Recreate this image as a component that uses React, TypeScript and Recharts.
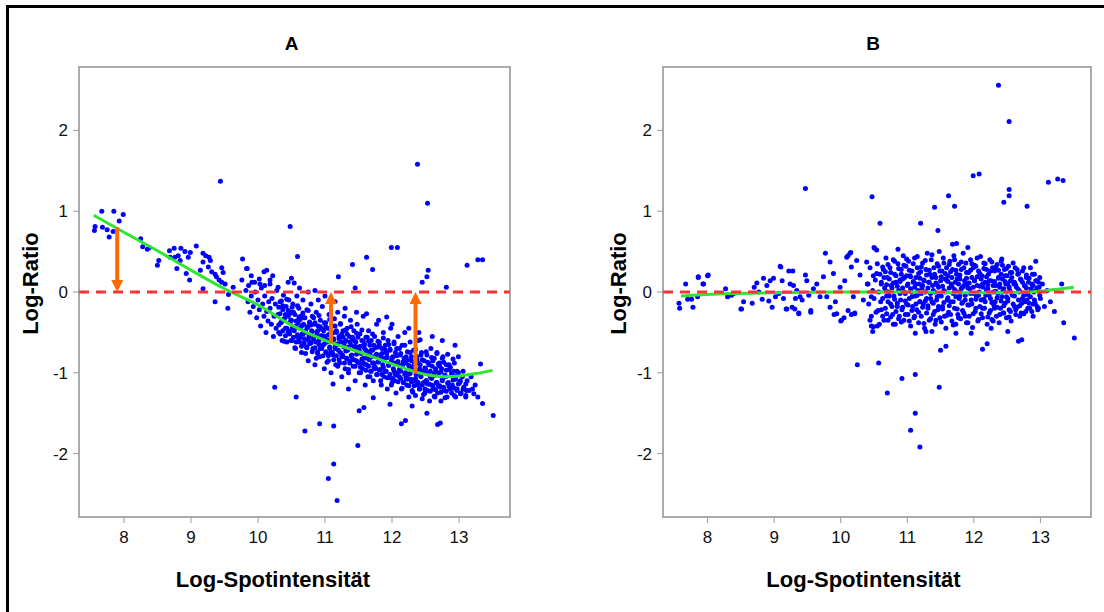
import React from 'react';
import { ScatterChart, Scatter, XAxis, YAxis, ReferenceLine, ReferenceArea } from 'recharts';

// Werte (MA-Plot vor / nach Loess-Normalisierung)
const xTicks = [8, 9, 10, 11, 12, 13];
const yTicks = [-2, -1, 0, 1, 2];
const xDomain: [number, number] = [7.33, 13.76];
const yDomain: [number, number] = [-2.785, 2.785];

const panelTitles = ['A', 'B'];
const xTitle = 'Log-Spotintensität';
const yTitle = 'Log-Ratio';

// Panel A: Rohdaten, Punktwolke fällt mit der Intensität
const pointsA: [number, number][] = [
  [7.57, 0.81], [7.56, 0.76], [7.67, 1.0], [7.68, 0.8], [7.75, 0.77], [7.78, 0.68], [7.85, 1.0], [7.84, 0.75],
  [7.93, 0.88], [7.99, 0.96], [8.25, 0.66], [8.28, 0.56], [8.35, 0.53], [8.38, 0.55], [8.52, 0.39], [8.5, 0.33],
  [8.68, 0.51], [8.75, 0.54], [8.69, 0.43], [8.76, 0.43], [8.81, 0.45], [8.85, 0.54], [8.84, 0.39], [8.91, 0.5],
  [8.96, 0.43], [8.99, 0.49], [8.79, 0.29], [8.93, 0.23], [8.98, 0.15], [9.08, 0.57], [9.18, 0.48], [9.22, 0.45],
  [9.27, 0.43], [9.29, 0.39], [9.18, 0.37], [9.26, 0.31], [9.14, 0.27], [9.31, 0.25], [9.36, 0.22], [9.38, 0.19],
  [9.42, 0.15], [9.46, 0.12], [9.48, 0.24], [9.51, 0.1], [9.46, 0.3], [9.77, 0.41], [9.83, 0.29], [9.76, 0.15],
  [9.63, 0.06], [9.56, -0.03], [9.36, -0.12], [9.55, -0.2], [9.18, 0.04], [9.91, 0.12], [10.03, 0.1], [10.09, 0.25],
  [10.13, 0.27], [10.18, 0.15], [10.5, 0.17], [10.54, 0.11], [9.44, 1.37], [12.38, 1.58], [12.53, 1.1], [10.48, 0.81],
  [10.59, 0.44], [9.84, 0.29], [11.2, 0.19], [11.41, 0.34], [11.62, 0.43], [11.71, 0.28], [11.99, 0.55], [12.08, 0.55],
  [13.12, 0.33], [13.28, 0.4], [13.35, 0.4], [12.54, 0.27], [12.52, 0.19], [12.45, 0.12], [12.81, 0.06], [11.45, 0.05],
  [10.85, 0.02], [10.25, -1.18], [10.57, -1.3], [10.7, -1.72], [10.92, -1.63], [11.13, -1.66], [11.49, -1.9],
  [11.13, -2.13], [11.05, -2.31], [11.18, -2.58], [11.51, -1.47], [11.58, -1.43], [11.72, -1.31], [11.97, -1.39],
  [12.14, -1.63], [12.2, -1.59], [12.3, -1.41], [12.52, -1.5], [12.68, -1.64], [12.72, -1.62], [13.22, -1.26],
  [13.35, -1.38], [13.51, -1.53], [12.94, -0.66], [13.32, -0.89], [11.92, -0.31], [11.12, -1.14], [11.35, -1.2],
  [13.11, -1.22], [12.42, -0.59],
  [9.82, 0.02], [9.85, -0.12], [9.88, -0.25], [9.86, 0.08], [9.9, -0.05], [9.93, -0.18], [9.96, 0.0], [9.98, -0.32],
  [10.0, -0.1], [10.02, -0.22], [10.04, -0.42], [10.05, 0.05], [10.07, -0.15], [10.09, -0.3], [10.1, -0.05],
  [10.12, -0.5], [10.13, -0.24], [10.15, -0.36], [10.16, -0.12], [10.18, -0.2], [10.2, -0.4], [10.21, -0.08],
  [10.23, -0.55], [10.24, -0.3], [10.26, -0.15], [10.27, -0.45], [10.28, 0.02], [10.3, -0.28], [10.31, -0.5],
  [10.33, -0.12], [10.34, -0.38], [10.36, -0.6], [10.37, -0.22], [10.38, -0.04], [10.39, -0.33], [10.41, -0.45],
  [10.42, -0.18], [10.43, -0.62], [10.45, -0.3], [10.46, -0.1], [10.47, -0.52], [10.48, -0.38], [10.49, -0.25],
  [10.5, -0.35], [10.51, -0.6], [10.52, -0.15], [10.54, -0.48], [10.55, -0.28], [10.56, -0.7], [10.57, -0.42],
  [10.58, -0.05], [10.59, -0.55], [10.6, -0.38], [10.61, -0.2], [10.62, -0.62], [10.63, -0.45], [10.64, -0.3],
  [10.65, -0.75], [10.66, -0.52], [10.67, -0.1], [10.68, -0.4], [10.69, -0.58], [10.7, -0.32], [10.71, -0.5],
  [10.72, -0.68], [10.73, -0.22], [10.74, -0.44], [10.75, -0.85], [10.76, -0.55], [10.77, -0.38], [10.78, -0.62],
  [10.79, -0.15], [10.8, -0.48], [10.81, -0.3], [10.82, -0.7], [10.83, -0.56], [10.84, -0.4], [10.85, -0.9],
  [10.86, -0.62], [10.87, -0.25], [10.88, -0.5], [10.89, -0.76], [10.9, -0.42], [10.91, -0.6], [10.92, -0.8],
  [10.93, -0.35], [10.94, -0.54], [10.95, -0.7], [10.96, -0.18], [10.97, -0.66], [10.98, -0.48], [10.99, -0.95],
  [11.0, -0.55], [11.01, -0.38], [11.02, -0.75], [11.03, -0.62], [11.04, -0.45], [11.05, -0.85], [11.06, -0.28],
  [11.07, -0.68], [11.08, -0.52], [11.09, -1.0], [11.1, -0.6], [11.11, -0.42], [11.12, -0.78], [11.13, -0.58],
  [11.14, -0.33], [11.15, -0.7], [11.16, -0.9], [11.17, -0.5], [11.18, -0.65], [11.19, -0.25], [11.2, -0.72],
  [11.21, -0.55], [11.22, -0.88], [11.23, -0.4], [11.24, -0.62], [11.25, -1.05], [11.26, -0.78], [11.27, -0.48],
  [11.28, -0.68], [11.29, -0.3], [11.3, -0.95], [11.31, -0.6], [11.32, -0.82], [11.33, -0.45], [11.34, -0.72],
  [11.35, -1.0], [11.36, -0.55], [11.37, -0.86], [11.38, -0.35], [11.39, -0.66], [11.4, -0.78], [11.41, -0.58],
  [11.42, -0.92], [11.43, -0.48], [11.44, -0.7], [11.45, -1.1], [11.46, -0.62], [11.47, -0.85], [11.48, -0.4],
  [11.49, -0.75], [11.5, -0.68], [11.51, -0.88], [11.52, -0.52], [11.53, -1.0], [11.54, -0.76], [11.55, -0.6],
  [11.56, -0.95], [11.57, -0.3], [11.58, -0.82], [11.59, -0.7], [11.6, -1.15], [11.61, -0.56], [11.62, -0.9],
  [11.63, -0.74], [11.64, -1.05], [11.65, -0.48], [11.66, -0.84], [11.67, -0.66], [11.68, -0.98], [11.69, -0.6],
  [11.7, -0.8], [11.71, -0.72], [11.72, -1.1], [11.73, -0.88], [11.74, -0.55], [11.75, -0.95], [11.76, -0.78],
  [11.77, -0.4], [11.78, -1.02], [11.79, -0.68], [11.8, -0.86], [11.81, -0.62], [11.82, -0.96], [11.83, -0.78],
  [11.84, -1.15], [11.85, -0.7], [11.86, -0.9], [11.87, -0.5], [11.88, -1.05], [11.89, -0.82], [11.9, -0.66],
  [11.91, -0.98], [11.92, -0.76], [11.93, -1.2], [11.94, -0.6], [11.95, -0.9], [11.96, -1.06], [11.97, -0.72],
  [11.98, -0.45], [11.99, -0.85], [12.0, -1.12], [12.01, -0.8], [12.02, -0.95], [12.03, -0.64], [12.04, -1.1],
  [12.05, -0.88], [12.06, -1.25], [12.07, -0.7], [12.08, -1.0], [12.09, -0.55], [12.1, -0.9], [12.11, -1.05],
  [12.12, -0.78], [12.13, -0.98], [12.14, -1.2], [12.15, -0.66], [12.16, -0.9], [12.17, -1.12], [12.18, -0.82],
  [12.19, -0.5], [12.2, -1.0], [12.21, -0.88], [12.22, -1.15], [12.23, -0.74], [12.24, -1.02], [12.25, -1.3],
  [12.26, -0.92], [12.27, -0.62], [12.28, -1.08], [12.29, -0.85], [12.3, -1.22], [12.31, -0.95], [12.32, -0.72],
  [12.33, -1.1], [12.34, -0.88], [12.35, -1.28], [12.36, -1.02], [12.37, -0.8], [12.38, -1.15], [12.39, -0.6],
  [12.4, -0.98], [12.41, -1.2], [12.42, -0.9], [12.43, -1.05], [12.44, -0.75], [12.45, -1.32], [12.46, -0.98],
  [12.47, -1.12], [12.48, -0.85], [12.49, -1.25], [12.5, -0.95], [12.51, -1.1], [12.52, -0.78], [12.53, -1.22],
  [12.54, -1.0], [12.55, -0.88], [12.56, -1.35], [12.57, -1.05], [12.58, -0.7], [12.59, -1.15], [12.6, -0.92],
  [12.61, -1.2], [12.62, -1.04], [12.63, -0.82], [12.64, -1.3], [12.65, -0.98], [12.66, -1.12], [12.67, -0.75],
  [12.68, -1.25], [12.7, -1.0], [12.71, -0.88], [12.72, -1.18], [12.73, -1.35], [12.74, -0.95], [12.75, -1.1],
  [12.76, -0.8], [12.78, -1.22], [12.8, -1.05], [12.81, -0.9], [12.82, -1.3], [12.84, -1.12], [12.85, -0.96],
  [12.87, -1.2], [12.89, -1.02], [12.9, -1.15], [12.92, -0.98], [12.93, -1.28], [12.95, -1.08], [12.97, -1.2],
  [12.99, -1.0], [13.01, -1.12], [13.03, -1.25], [13.05, -1.05], [13.07, -1.18], [13.1, -1.3], [13.12, -1.1],
  [13.15, -1.22], [13.18, -1.05], [13.2, -1.2], [13.24, -1.15], [13.28, -1.3],
  [9.9, 0.2], [9.95, 0.12], [10.02, 0.16], [10.1, 0.08], [10.18, 0.1], [10.22, 0.2], [10.3, 0.06], [10.45, 0.12],
  [10.62, 0.05], [10.75, 0.0], [10.9, -0.1], [11.0, -0.05], [11.15, -0.12], [11.3, -0.2], [11.47, -0.25],
  [11.62, -0.27], [11.8, -0.35], [12.0, -0.4], [12.25, -0.45], [12.4, -0.5], [12.6, -0.55], [12.75, -0.6],
];

// Panel A: dichter Kern der Wolke entlang der Kurve
const coreA: [number, number][] = [
  [10.31, -0.19], [10.31, -0.41], [10.33, -0.52], [10.33, -0.27], [10.35, -0.11], [10.35, -0.37], [10.37, -0.48], [10.37, -0.17],
  [10.39, -0.33], [10.39, -0.61], [10.41, -0.28], [10.41, -0.54], [10.43, -0.45], [10.43, -0.09], [10.45, -0.23], [10.45, -0.5],
  [10.47, -0.27], [10.47, -0.49], [10.49, -0.6], [10.49, -0.35], [10.51, -0.19], [10.51, -0.45], [10.53, -0.56], [10.53, -0.25],
  [10.55, -0.45], [10.55, -0.69], [10.57, -0.36], [10.57, -0.62], [10.59, -0.53], [10.59, -0.17], [10.61, -0.31], [10.61, -0.58],
  [10.63, -0.34], [10.63, -0.56], [10.65, -0.67], [10.65, -0.42], [10.67, -0.26], [10.67, -0.52], [10.69, -0.63], [10.69, -0.32],
  [10.71, -0.48], [10.71, -0.76], [10.73, -0.43], [10.73, -0.69], [10.75, -0.59], [10.75, -0.23], [10.77, -0.37], [10.77, -0.64],
  [10.79, -0.41], [10.79, -0.63], [10.81, -0.74], [10.81, -0.49], [10.83, -0.32], [10.83, -0.58], [10.85, -0.69], [10.85, -0.38],
  [10.87, -0.54], [10.87, -0.82], [10.89, -0.48], [10.89, -0.74], [10.91, -0.65], [10.91, -0.29], [10.93, -0.43], [10.93, -0.7],
  [10.95, -0.46], [10.95, -0.68], [10.97, -0.79], [10.97, -0.54], [10.99, -0.38], [10.99, -0.64], [11.01, -0.74], [11.01, -0.43],
  [11.03, -0.59], [11.03, -0.87], [11.05, -0.53], [11.05, -0.79], [11.07, -0.7], [11.07, -0.34], [11.09, -0.48], [11.09, -0.75],
  [11.11, -0.51], [11.11, -0.75], [11.13, -0.84], [11.13, -0.59], [11.15, -0.42], [11.15, -0.68], [11.17, -0.79], [11.17, -0.48],
  [11.19, -0.64], [11.19, -0.92], [11.21, -0.58], [11.21, -0.84], [11.23, -0.75], [11.23, -0.39], [11.25, -0.52], [11.25, -0.79],
  [11.27, -0.56], [11.27, -0.8], [11.29, -0.88], [11.29, -0.63], [11.31, -0.47], [11.31, -0.73], [11.33, -0.83], [11.33, -0.52],
  [11.35, -0.68], [11.35, -0.96], [11.37, -0.62], [11.37, -0.88], [11.39, -0.79], [11.39, -0.43], [11.41, -0.56], [11.41, -0.83],
  [11.43, -0.6], [11.43, -0.84], [11.45, -0.92], [11.45, -0.67], [11.47, -0.51], [11.47, -0.77], [11.49, -0.87], [11.49, -0.56],
  [11.51, -0.72], [11.51, -1.0], [11.53, -0.67], [11.53, -0.93], [11.55, -0.83], [11.55, -0.47], [11.57, -0.61], [11.57, -0.88],
  [11.59, -0.65], [11.59, -0.89], [11.61, -0.97], [11.61, -0.72], [11.63, -0.56], [11.63, -0.82], [11.65, -0.92], [11.65, -0.61],
  [11.67, -0.77], [11.67, -1.05], [11.69, -0.72], [11.69, -0.98], [11.71, -0.88], [11.71, -0.52], [11.73, -0.66], [11.73, -0.93],
  [11.75, -0.69], [11.75, -0.93], [11.77, -1.02], [11.77, -0.77], [11.79, -0.61], [11.79, -0.87], [11.81, -0.97], [11.81, -0.66],
  [11.83, -0.82], [11.83, -1.1], [11.85, -0.76], [11.85, -1.02], [11.87, -0.93], [11.87, -0.57], [11.89, -0.71], [11.89, -0.98],
  [11.91, -0.74], [11.91, -0.98], [11.93, -1.06], [11.93, -0.81], [11.95, -0.65], [11.95, -0.91], [11.97, -1.02], [11.97, -0.71],
  [11.99, -0.87], [11.99, -1.15], [12.01, -0.81], [12.01, -1.07], [12.03, -0.98], [12.03, -0.62], [12.05, -0.75], [12.05, -1.02],
  [12.07, -0.79], [12.07, -1.03], [12.09, -1.11], [12.09, -0.86], [12.11, -0.7], [12.11, -0.96], [12.13, -1.07], [12.13, -0.76],
  [12.15, -0.91], [12.15, -1.19], [12.17, -0.86], [12.17, -1.12], [12.19, -1.02], [12.19, -0.66], [12.21, -0.8], [12.21, -1.07],
  [12.23, -0.84], [12.23, -1.08], [12.25, -1.16], [12.25, -0.91], [12.27, -0.75], [12.27, -1.01], [12.29, -1.11], [12.29, -0.8],
  [12.31, -0.96], [12.31, -1.24], [12.33, -0.9], [12.33, -1.16], [12.35, -1.07], [12.35, -0.71], [12.37, -0.84], [12.37, -1.11],
  [12.39, -0.88], [12.39, -1.12], [12.41, -1.2], [12.41, -0.95], [12.43, -0.78], [12.43, -1.04], [12.45, -1.15], [12.45, -0.84],
  [12.47, -0.99], [12.47, -1.27], [12.49, -0.94], [12.49, -1.2], [12.51, -1.1], [12.51, -0.74], [12.53, -0.87], [12.53, -1.14],
  [12.55, -0.9], [12.55, -1.14], [12.57, -1.23], [12.57, -0.98], [12.59, -0.81], [12.59, -1.07], [12.61, -1.16], [12.61, -0.85],
  [12.63, -1.01], [12.63, -1.29], [12.65, -0.95], [12.65, -1.21], [12.67, -1.12], [12.67, -0.76], [12.69, -0.89], [12.69, -1.16],
  [12.71, -0.92], [12.71, -1.16], [12.73, -1.24], [12.73, -0.99], [12.75, -0.82], [12.75, -1.08], [12.77, -1.18], [12.77, -0.87],
  [12.79, -1.03], [12.79, -1.31], [12.81, -0.97], [12.81, -1.23], [12.83, -1.13], [12.83, -0.77], [12.85, -0.9], [12.85, -1.17],
  [12.87, -0.93], [12.87, -1.17], [12.89, -1.25], [12.89, -1.0], [12.91, -0.83], [12.91, -1.09], [12.93, -1.19], [12.93, -0.88],
  [12.95, -1.04], [12.95, -1.3], [12.97, -0.98], [12.97, -1.22], [12.99, -1.14], [12.99, -0.8], [13.02, -1.1], [13.02, -1.26],
  [13.06, -1.2], [13.06, -0.98], [13.1, -1.14], [13.1, -1.28],
];

// Loess-Kurve Panel A
const curveA: [number, number][] = [
  [7.55, 0.95], [8, 0.74], [8.5, 0.51], [9, 0.27], [9.5, 0.04], [10, -0.16], [10.5, -0.41], [11, -0.6],
  [11.5, -0.74], [12, -0.89], [12.5, -1.02], [12.8, -1.05], [13, -1.04], [13.25, -1.01], [13.5, -0.97],
];

// Pfeile: Korrektur der Loess-Kurve auf 0
const arrowX = [7.9, 11.09, 12.35];
const arrowFrom = [0.8, -0.63, -1.01];
const arrowTo = [0.0, 0.0, 0.0];

// Panel B: normalisierte Daten, um 0 zentriert
const pointsB: [number, number][] = [
  [12.37, 2.56], [12.53, 2.11], [9.47, 1.28], [10.47, 1.18], [10.59, 0.85], [11.41, 1.05], [11.62, 1.19],
  [11.71, 1.06], [11.2, 0.85], [11.46, 0.76], [11.99, 1.44], [12.08, 1.46], [12.45, 1.11], [12.53, 1.19],
  [12.53, 1.27], [12.8, 1.06], [13.12, 1.36], [13.26, 1.4], [13.34, 1.38], [12.93, 0.38], [12.42, 0.41],
  [11.91, 0.55], [11.68, 0.59], [11.74, 0.6], [10.5, 0.55], [10.54, 0.52], [10.86, 0.53], [9.77, 0.48],
  [10.11, 0.45], [10.15, 0.49], [9.1, 0.31], [7.86, 0.19], [8.0, 0.2], [7.67, 0.1], [7.93, 0.1], [13.32, 0.1],
  [10.25, -0.9], [10.57, -0.88], [10.7, -1.25], [10.92, -1.07], [11.12, -1.02], [11.48, -1.18], [11.12, -1.5],
  [11.05, -1.71], [11.19, -1.92], [11.5, -0.72], [11.58, -0.67], [12.13, -0.71], [12.2, -0.64], [12.67, -0.61],
  [12.72, -0.59], [13.35, -0.38], [13.51, -0.57], [11.73, -0.51], [11.96, -0.51], [11.12, -0.51], [11.28, -0.49],
  [11.37, -0.49], [10.48, -0.49], [10.46, -0.42], [10.55, -0.42], [12.51, -0.49], [12.26, -0.45], [13.21, -0.24],
  [7.58, -0.2], [7.78, -0.19], [8.51, -0.21], [8.97, -0.19], [9.19, -0.21], [9.31, -0.21], [9.37, -0.26],
  [9.55, -0.25], [9.9, -0.28], [10.0, -0.36], [10.05, -0.32], [10.16, -0.28], [10.21, -0.26],
  [7.57, -0.14], [7.7, -0.09], [7.76, -0.09], [7.85, -0.06], [7.86, 0.18], [7.94, 0.1], [8.01, 0.21], [8.27, 0.04],
  [8.3, -0.06], [8.36, -0.04], [8.39, -0.02], [8.5, -0.21], [8.54, -0.12], [8.67, -0.14], [8.7, 0.06], [8.74, 0.11],
  [8.77, 0.0], [8.82, -0.09], [8.84, 0.17], [8.89, 0.08], [8.94, 0.14], [8.99, 0.17], [8.92, -0.11], [9.02, -0.06],
  [9.07, -0.02], [9.09, 0.32], [9.12, 0.14], [9.14, -0.08], [9.18, -0.21], [9.22, 0.26], [9.28, 0.26], [9.24, 0.1],
  [9.29, 0.08], [9.27, -0.19], [9.32, -0.08], [9.34, 0.02], [9.37, -0.27], [9.39, -0.06], [9.42, -0.1], [9.47, 0.21],
  [9.49, 0.14], [9.52, -0.04], [9.55, -0.23], [9.59, 0.04], [9.64, 0.1], [9.69, -0.06], [9.74, 0.19], [9.79, -0.06],
  [9.84, 0.37], [9.84, -0.19], [9.89, 0.23], [9.92, -0.12], [9.94, -0.27], [9.99, 0.06], [10.01, -0.35], [10.06, 0.14],
  [10.09, 0.43], [10.11, -0.23], [10.14, 0.48], [10.16, 0.31], [10.19, -0.06], [10.21, -0.27], [10.24, 0.39],
  [10.29, 0.21], [10.34, -0.1], [10.39, 0.37], [10.41, 0.1], [10.44, -0.35], [10.46, -0.06], [10.49, -0.43],
  [10.51, 0.54], [10.54, 0.23], [10.56, -0.23],
  [10.4, 0.1], [10.42, -0.15], [10.44, 0.3], [10.46, -0.3], [10.48, 0.02], [10.49, 0.2], [10.5, -0.08], [10.52, 0.15],
  [10.53, -0.25], [10.55, 0.35], [10.57, 0.0], [10.58, -0.4], [10.59, 0.22], [10.6, -0.12], [10.61, 0.1], [10.63, -0.3],
  [10.64, 0.28], [10.66, 0.05], [10.67, -0.2], [10.68, 0.42], [10.69, -0.05], [10.7, 0.18], [10.71, -0.35], [10.72, 0.0],
  [10.74, 0.3], [10.75, -0.15], [10.76, 0.08], [10.78, -0.28], [10.79, 0.4], [10.8, -0.05], [10.81, 0.22], [10.82, -0.4],
  [10.83, 0.12], [10.85, -0.18], [10.86, 0.35], [10.87, 0.02], [10.88, -0.3], [10.89, 0.15], [10.9, -0.1], [10.91, 0.28],
  [10.92, -0.22], [10.93, 0.05], [10.94, 0.45], [10.95, -0.35], [10.96, 0.18], [10.97, -0.02], [10.98, 0.32],
  [10.99, -0.15], [11.0, 0.08], [11.01, -0.28], [11.02, 0.38], [11.03, -0.08], [11.04, 0.2], [11.05, -0.42], [11.06, 0.0],
  [11.07, 0.26], [11.08, -0.18], [11.09, 0.12], [11.1, -0.32], [11.11, 0.42], [11.12, -0.05], [11.13, 0.18],
  [11.14, -0.22], [11.15, 0.3], [11.16, 0.02], [11.17, -0.38], [11.18, 0.1], [11.19, -0.12], [11.2, 0.25], [11.21, -0.3],
  [11.22, 0.05], [11.23, 0.36], [11.24, -0.15], [11.25, 0.15], [11.26, -0.45], [11.27, 0.0], [11.28, 0.28],
  [11.29, -0.08], [11.3, 0.48], [11.31, -0.2], [11.32, 0.12], [11.33, -0.35], [11.34, 0.22], [11.35, -0.02], [11.36, 0.4],
  [11.37, -0.12], [11.38, 0.08], [11.39, -0.28], [11.4, 0.3], [11.41, 0.0], [11.42, -0.4], [11.43, 0.18], [11.44, -0.1],
  [11.45, 0.35], [11.46, -0.22], [11.47, 0.06], [11.48, 0.5], [11.49, -0.32], [11.5, 0.14], [11.51, -0.05], [11.52, 0.26],
  [11.53, -0.18], [11.54, 0.42], [11.55, 0.02], [11.56, -0.3], [11.57, 0.16], [11.58, -0.45], [11.59, 0.3], [11.6, -0.1],
  [11.61, 0.2], [11.62, -0.25], [11.63, 0.05], [11.64, 0.38], [11.65, -0.12], [11.66, 0.1], [11.67, -0.36], [11.68, 0.28],
  [11.69, -0.02], [11.7, 0.45], [11.71, -0.2], [11.72, 0.12], [11.73, -0.4], [11.74, 0.22], [11.75, 0.0], [11.76, -0.28],
  [11.77, 0.34], [11.78, -0.08], [11.79, 0.16], [11.8, -0.33], [11.81, 0.28], [11.82, -0.14], [11.83, 0.06], [11.84, 0.48],
  [11.85, -0.26], [11.86, 0.14], [11.87, -0.04], [11.88, 0.36], [11.89, -0.38], [11.9, 0.1], [11.91, -0.16], [11.92, 0.24],
  [11.93, -0.3], [11.94, 0.04], [11.95, 0.4], [11.96, -0.1], [11.97, 0.18], [11.98, -0.44], [11.99, 0.3], [12.0, -0.02],
  [12.01, 0.14], [12.02, -0.24], [12.03, 0.32], [12.04, -0.06], [12.05, 0.08], [12.06, -0.36], [12.07, 0.26], [12.08, 0.0],
  [12.09, -0.18], [12.1, 0.44], [12.11, -0.1], [12.12, 0.2], [12.13, -0.32], [12.14, 0.06], [12.15, 0.36], [12.16, -0.2],
  [12.17, 0.12], [12.18, -0.04], [12.19, 0.28], [12.2, -0.4], [12.21, 0.04], [12.22, 0.22], [12.23, -0.26], [12.24, 0.4],
  [12.25, -0.08], [12.26, 0.14], [12.27, -0.34], [12.28, 0.3], [12.29, 0.0], [12.3, -0.16], [12.31, 0.26], [12.32, -0.12],
  [12.33, 0.08], [12.34, -0.3], [12.35, 0.34], [12.36, -0.02], [12.37, 0.18], [12.38, -0.38], [12.39, 0.1], [12.4, -0.2],
  [12.41, 0.38], [12.42, -0.06], [12.43, 0.16], [12.44, -0.26], [12.45, 0.04], [12.46, 0.28], [12.47, -0.14], [12.48, 0.1],
  [12.49, -0.32], [12.5, 0.2], [12.51, -0.08], [12.52, 0.32], [12.53, -0.22], [12.54, 0.02], [12.55, 0.14], [12.56, -0.36],
  [12.57, 0.24], [12.58, -0.04], [12.6, 0.1], [12.61, -0.18], [12.62, 0.3], [12.63, -0.28], [12.64, 0.06], [12.66, 0.22],
  [12.67, -0.1], [12.68, 0.0], [12.69, -0.3], [12.7, 0.16], [12.72, -0.14], [12.73, 0.26], [12.75, -0.04], [12.76, 0.08],
  [12.78, -0.24], [12.79, 0.18], [12.8, -0.1], [12.82, 0.12], [12.84, -0.2], [12.86, 0.04], [12.88, 0.22], [12.89, -0.3],
  [12.9, 0.0], [12.92, -0.14], [12.94, 0.14], [12.96, -0.22], [12.98, 0.06], [13.0, -0.08], [13.03, 0.1], [13.06, -0.18],
  [13.1, 0.02], [13.15, -0.12],
];

// Panel B: dichter Kern um 0
const coreB: [number, number][] = [
  [10.61, 0.12], [10.61, -0.22], [10.63, -0.08], [10.63, 0.31], [10.65, 0.18], [10.65, -0.35], [10.67, 0.02], [10.67, 0.25],
  [10.69, -0.27], [10.69, 0.09], [10.71, 0.34], [10.71, -0.12], [10.73, -0.05], [10.73, 0.16], [10.75, 0.24], [10.75, -0.31],
  [10.77, -0.18], [10.77, 0.05], [10.79, 0.11], [10.79, -0.4], [10.81, 0.38], [10.81, -0.09], [10.83, -0.24], [10.83, 0.2],
  [10.85, 0.07], [10.85, -0.14], [10.87, 0.29], [10.87, -0.33], [10.89, -0.02], [10.89, 0.13], [10.91, -0.37], [10.91, 0.22],
  [10.93, 0.16], [10.93, -0.19], [10.95, 0.33], [10.95, 0.0], [10.97, -0.11], [10.97, -0.28], [10.99, 0.2], [10.99, 0.41],
  [11.01, -0.16], [11.01, 0.1], [11.03, 0.27], [11.03, -0.36], [11.05, 0.04], [11.05, 0.19], [11.07, -0.23], [11.07, -0.06],
  [11.09, 0.35], [11.09, 0.13], [11.11, -0.3], [11.11, 0.06], [11.13, 0.1], [11.13, -0.15], [11.15, -0.04], [11.15, 0.44],
  [11.17, 0.23], [11.17, -0.25], [11.19, -0.12], [11.19, 0.17], [11.21, 0.31], [11.21, -0.02], [11.23, -0.19], [11.23, 0.08],
  [11.25, 0.14], [11.25, -0.39], [11.27, 0.39], [11.27, -0.11], [11.29, -0.26], [11.29, 0.21], [11.31, 0.05], [11.31, -0.17],
  [11.33, 0.27], [11.33, 0.12], [11.35, -0.08], [11.35, -0.33], [11.37, 0.18], [11.37, 0.46], [11.39, -0.14], [11.39, 0.02],
  [11.41, 0.22], [11.41, -0.24], [11.43, -0.35], [11.43, 0.11], [11.45, 0.09], [11.45, -0.06], [11.47, 0.32], [11.47, -0.18],
  [11.49, -0.03], [11.49, 0.26], [11.51, 0.19], [11.51, -0.37], [11.53, -0.21], [11.53, 0.07], [11.55, 0.36], [11.55, -0.13],
  [11.57, 0.0], [11.57, 0.23], [11.59, -0.29], [11.59, 0.15], [11.61, 0.13], [11.61, -0.07], [11.63, -0.17], [11.63, 0.34],
  [11.65, 0.25], [11.65, -0.28], [11.67, 0.07], [11.67, 0.18], [11.69, -0.12], [11.69, -0.41], [11.71, 0.4], [11.71, 0.03],
  [11.73, -0.06], [11.73, 0.27], [11.75, 0.16], [11.75, -0.21], [11.77, -0.32], [11.77, 0.1], [11.79, 0.21], [11.79, -0.05],
  [11.81, 0.04], [11.81, 0.37], [11.83, -0.23], [11.83, -0.13], [11.85, 0.3], [11.85, 0.08], [11.87, -0.1], [11.87, -0.3],
  [11.89, 0.17], [11.89, 0.24], [11.91, -0.38], [11.91, 0.05], [11.93, 0.11], [11.93, -0.16], [11.95, 0.27], [11.95, -0.02],
  [11.97, -0.15], [11.97, 0.35], [11.99, 0.06], [11.99, -0.27], [12.01, 0.33], [12.01, 0.14], [12.03, -0.2], [12.03, -0.09],
  [12.05, 0.19], [12.05, 0.42], [12.07, -0.04], [12.07, -0.34], [12.09, 0.23], [12.09, 0.07], [12.11, -0.27], [12.11, 0.16],
  [12.13, 0.1], [12.13, -0.2], [12.15, -0.09], [12.15, 0.29], [12.17, 0.35], [12.17, -0.12], [12.19, 0.02], [12.19, 0.19],
  [12.21, -0.31], [12.21, 0.09], [12.23, 0.14], [12.23, -0.04], [12.25, 0.26], [12.25, -0.23], [12.27, -0.13], [12.27, 0.37],
  [12.29, 0.08], [12.29, -0.36], [12.31, -0.2], [12.31, 0.13], [12.33, 0.31], [12.33, 0.01], [12.35, -0.07], [12.35, -0.19],
  [12.37, 0.17], [12.37, 0.27], [12.39, -0.28], [12.39, 0.06], [12.41, 0.22], [12.41, -0.11], [12.43, 0.0], [12.43, 0.33],
  [12.45, -0.17], [12.45, -0.26], [12.47, 0.13], [12.47, 0.2], [12.49, 0.29], [12.49, -0.06], [12.51, -0.11], [12.51, 0.1],
  [12.53, 0.06], [12.53, -0.31], [12.55, -0.24], [12.55, 0.24], [12.57, 0.18], [12.57, -0.02], [12.59, 0.36], [12.59, -0.15],
  [12.61, -0.05], [12.61, 0.12], [12.63, 0.09], [12.63, -0.22], [12.65, -0.19], [12.65, 0.28], [12.67, 0.23], [12.67, 0.03],
  [12.69, 0.01], [12.69, -0.17], [12.71, -0.26], [12.71, 0.15], [12.73, 0.12], [12.73, -0.08], [12.75, 0.3], [12.75, -0.27],
  [12.77, -0.12], [12.77, 0.07], [12.79, 0.05], [12.79, 0.21], [12.81, -0.2], [12.81, -0.03], [12.83, 0.17], [12.83, -0.14],
  [12.85, -0.06], [12.85, 0.3], [12.87, 0.1], [12.87, -0.24], [12.89, -0.15], [12.89, 0.08], [12.91, 0.22], [12.91, -0.1],
  [12.93, 0.02], [12.93, 0.14], [12.95, -0.18], [12.95, 0.05], [12.97, 0.12], [12.97, -0.2], [12.99, -0.04], [12.99, 0.18],
];

// Loess-Kurve Panel B (nach Normalisierung fast flach)
const curveB: [number, number][] = [
  [7.6, -0.05], [8, -0.03], [9, -0.01], [10, 0.0], [11, 0.0], [12, -0.01], [12.8, 0.0], [13.2, 0.03], [13.5, 0.06],
];

const toPts = (arr: [number, number][]) => arr.map(([x, y]) => ({ x, y }));

const FONT = '"Liberation Sans", Arial, Helvetica, sans-serif';
const tickStyle = { fill: '#111', fontSize: 17, fontFamily: FONT };

const Dot = (p: any) => <circle cx={p.cx} cy={p.cy} r={2.5} fill="#0000ff" />;
const NoDot = () => <g />;

const Arrow = (p: any) => {
    const { x1, y1, x2, y2 } = p;
    const dir = y2 > y1 ? 1 : -1;
    const hl = 12;
    const hw = 6;
    return (
        <g>
            <line x1={x1} y1={y1} x2={x2} y2={y2 - dir * hl} stroke="#ff6a00" strokeWidth={4} />
            <polygon points={`${x2},${y2} ${x2 - hw},${y2 - dir * hl} ${x2 + hw},${y2 - dir * hl}`} fill="#ff6a00" />
        </g>
    );
};

type Layer = 'base' | 'curve' | 'top';

interface PanelProps {
    layer: Layer;
    points: [number, number][];
    curve: [number, number][];
    yAxisWidth: number;
    rightMargin: number;
    arrows: boolean;
}

// drei übereinanderliegende Ebenen, damit Punkte < Kurve < Nulllinie/Pfeile
const Panel: React.FC<PanelProps> = ({ layer, points, curve, yAxisWidth, rightMargin, arrows }) => {
    const base = layer === 'base';
    return (
        <ScatterChart width={552} height={612} margin={{ top: 67, right: rightMargin, bottom: 65, left: 0 }}>
            <XAxis
                type="number"
                dataKey="x"
                domain={xDomain}
                ticks={xTicks}
                allowDataOverflow
                height={30}
                axisLine={false}
                tickSize={6}
                tickMargin={8}
                tickLine={base ? { stroke: '#999' } : false}
                tick={base ? tickStyle : false}
            />
            <YAxis
                type="number"
                dataKey="y"
                domain={yDomain}
                ticks={yTicks}
                allowDataOverflow
                width={yAxisWidth}
                axisLine={false}
                tickSize={6}
                tickMargin={5}
                tickLine={base ? { stroke: '#999' } : false}
                tick={base ? tickStyle : false}
            />
            {base && (
                <ReferenceArea
                    x1={xDomain[0]}
                    x2={xDomain[1]}
                    y1={yDomain[0]}
                    y2={yDomain[1]}
                    fill="none"
                    fillOpacity={0}
                    stroke="#aaa"
                    strokeWidth={2}
                />
            )}
            {base && <Scatter data={toPts(points)} shape={Dot} isAnimationActive={false} />}
            {layer === 'curve' && (
                <Scatter
                    data={toPts(curve)}
                    shape={NoDot}
                    line={{ stroke: '#2ee62e', strokeWidth: 3 }}
                    lineJointType="monotoneX"
                    isAnimationActive={false}
                />
            )}
            {layer === 'top' && <ReferenceLine y={0} stroke="#ff3333" strokeWidth={3} strokeDasharray="10 7" />}
            {layer === 'top' &&
                arrows &&
                arrowX.map((x, i) => (
                    <ReferenceLine
                        key={`arrow-${i}`}
                        segment={[{ x, y: arrowFrom[i] }, { x, y: arrowTo[i] }]}
                        shape={Arrow}
                    />
                ))}
        </ScatterChart>
    );
};

const layers: Layer[] = ['base', 'curve', 'top'];

export default function App() {
    const allA = [...pointsA, ...coreA];
    const allB = [...pointsB, ...coreB];
    return (
        <div style={{ position: 'absolute', left: 0, top: 0, width: 1104, height: 612, background: '#fff', overflow: 'hidden' }}>
            <div style={{ position: 'absolute', left: 6, top: 5, width: 1200, height: 700, borderLeft: '3px solid #000', borderTop: '3px solid #000' }} />
            {layers.map((layer) => (
                <React.Fragment key={layer}>
                    <div style={{ position: 'absolute', left: 0, top: 0 }}>
                        <Panel layer={layer} points={allA} curve={curveA} yAxisWidth={79} rightMargin={42} arrows />
                    </div>
                    <div style={{ position: 'absolute', left: 552, top: 0 }}>
                        <Panel layer={layer} points={allB} curve={curveB} yAxisWidth={111} rightMargin={13} arrows={false} />
                    </div>
                </React.Fragment>
            ))}
            <svg width={1104} height={612} style={{ position: 'absolute', left: 0, top: 0, pointerEvents: 'none' }}>
                <g fontFamily={FONT} fontWeight="bold" fill="#000" textAnchor="middle">
                    <text x={291.5} y={50} fontSize={19}>{panelTitles[0]}</text>
                    <text x={873} y={50} fontSize={19}>{panelTitles[1]}</text>
                    <text x={273} y={587} fontSize={22}>{xTitle}</text>
                    <text x={863.5} y={587} fontSize={22}>{xTitle}</text>
                    <text x={38} y={283.5} fontSize={22} transform="rotate(-90 38 283.5)">{yTitle}</text>
                    <text x={626} y={283.5} fontSize={22} transform="rotate(-90 626 283.5)">{yTitle}</text>
                </g>
            </svg>
        </div>
    );
}
